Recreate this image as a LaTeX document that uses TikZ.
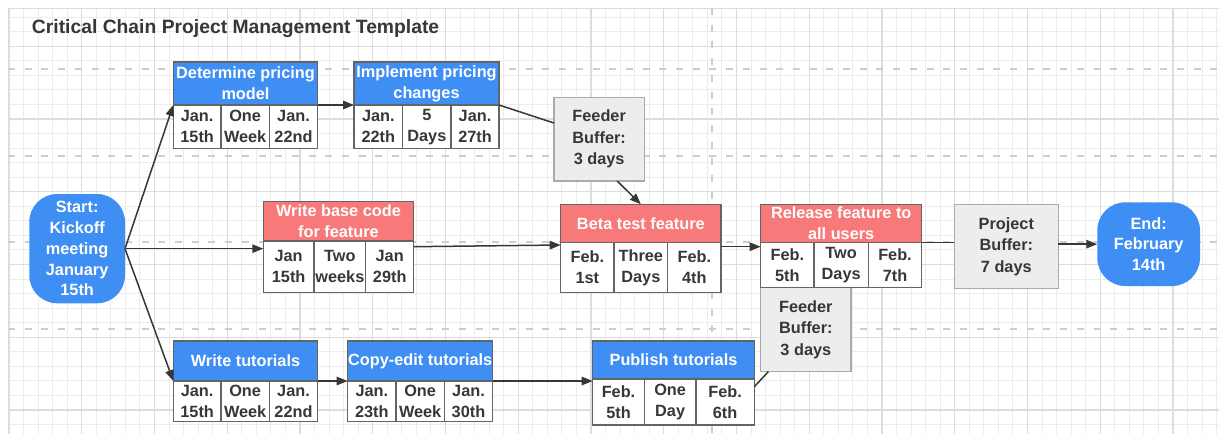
\documentclass[tikz,border=0pt]{standalone}
\usepackage{fontspec}
\setmainfont{Liberation Sans}
\usetikzlibrary{arrows.meta,calc}

\definecolor{taskblue}{RGB}{63,142,243}
\definecolor{taskred}{RGB}{248,121,121}
\definecolor{bufferfill}{RGB}{237,237,237}
\definecolor{bufferline}{RGB}{170,170,170}
\definecolor{cellline}{RGB}{100,100,100}
\definecolor{inkgray}{RGB}{55,55,55}
\definecolor{gridfine}{RGB}{236,236,236}
\definecolor{gridbold}{RGB}{220,220,220}
\definecolor{lanedash}{RGB}{205,205,205}

\begin{document}
\begin{tikzpicture}[x=0.5pt,y=-0.5pt,
  every node/.style={font=\fontsize{8.15}{10.5}\selectfont\bfseries, align=center, inner sep=0pt, outer sep=0pt},
  % a box given by its corners (x1,y1) and (x2,y2)
  span/.style n args={4}{rectangle, anchor=center,
    minimum width={(#3-#1)*0.5pt}, minimum height={(#4-#2)*0.5pt},
    at={({(#1+#3)/2},{(#2+#4)/2})}},
  hdr/.style={draw=cellline, line width=0.6pt, text=white},
  bluehdr/.style={hdr, fill=taskblue},
  redhdr/.style={hdr, fill=taskred},
  cellbox/.style={draw=cellline, line width=0.6pt, fill=white, text=inkgray},
  bufferbox/.style={draw=bufferline, line width=0.75pt, fill=bufferfill, text=inkgray, font=\fontsize{8.15}{10.75}\selectfont\bfseries},
  terminal/.style={fill=taskblue, rounded corners=14pt, text=white, font=\fontsize{8.15}{10.4}\selectfont\bfseries},
  link/.style={draw=inkgray, line width=0.75pt},
  arrowlink/.style={link, -{Triangle[length=5.5pt,width=4.2pt]}},
  lane/.style={draw=lanedash, line width=1pt, dash pattern=on 3.5pt off 4.85pt},
]
\useasboundingbox (0,0) rectangle (1219,434);
\fill[white] (0,0) rectangle (1219,434);

% drawing grid
\begin{scope}
  \clip (8,8) rectangle (1219,434);
  \foreach \i in {0,...,83}
    \draw[gridfine, line width=0.5pt] ({8.95+14.55*\i},8) -- ({8.95+14.55*\i},434);
  \foreach \j in {-2,...,26}
    \draw[gridfine, line width=0.5pt] (8,{46.25+14.55*\j}) -- (1219,{46.25+14.55*\j});
  \foreach \i in {0,5,...,80}
    \draw[gridbold, line width=0.6pt] ({8.95+14.55*\i},8) -- ({8.95+14.55*\i},434);
  \foreach \j in {0,5,...,25}
    \draw[gridbold, line width=0.6pt] (8,{46.25+14.55*\j}) -- (1219,{46.25+14.55*\j});
  \draw[gridbold, line width=0.6pt] (8,8.3) -- (1219,8.3);
\end{scope}

% swimlane separators
\foreach \y in {69,155.7,242.3,329}
  \draw[lane] (8,\y) -- (1219,\y);
\draw[lane] (712.3,8) -- (712.3,434);

% title
\node[anchor=west, text=inkgray, font=\fontsize{9.65}{12}\selectfont\bfseries] (title) at (32,29)
  {Critical Chain Project Management Template};

% start and end
\node[terminal, span={29.3}{194}{125}{303.3}] (start) {Start:\\Kickoff\\meeting\\January\\15th};
\node[terminal, span={1097.3}{202.3}{1200}{286}] (finish) {End:\\February\\14th};

% buffers
\node[bufferbox, span={554}{97.3}{644.3}{181}] (fb1) {Feeder\\Buffer:\\3 days};
\node[bufferbox, span={760.7}{287.3}{851}{371.7}] (fb2) {Feeder\\Buffer:\\3 days};
\node[bufferbox, span={954.3}{204.3}{1058.3}{288.3}] (pb) {Project\\Buffer:\\7 days};

% Determine pricing model
\node[bluehdr, span={173.3}{62}{317.7}{105}] (dph) {Determine pricing\\model};
\node[cellbox, span={173.3}{105}{221}{148.3}] (dp1) {Jan.\\15th};
\node[cellbox, span={221}{105}{269.3}{148.3}] (dp2) {One\\Week};
\node[cellbox, span={269.3}{105}{317.7}{148.3}] (dp3) {Jan.\\22nd};

% Implement pricing changes
\node[bluehdr, span={354}{62}{499}{105}] (imh) {Implement pricing\\changes};
\node[cellbox, span={354}{105}{402.7}{148.3}] (im1) {Jan.\\22th};
\node[cellbox, span={402.7}{105}{451}{148.3}] (im2) {5\\Days};
\node[cellbox, span={451}{105}{499}{148.3}] (im3) {Jan.\\27th};

% Write base code for feature
\node[redhdr, span={263.3}{201.7}{413.7}{241}] (wbh) {Write base code\\for feature};
\node[cellbox, span={263.3}{241}{314}{292.3}] (wb1) {Jan\\15th};
\node[cellbox, span={314}{241}{365.7}{292.3}] (wb2) {Two\\weeks};
\node[cellbox, span={365.7}{241}{413.7}{292.3}] (wb3) {Jan\\29th};

% Beta test feature
\node[redhdr, span={560.7}{204.3}{721}{242.7}] (bth) {Beta test feature};
\node[cellbox, span={560.7}{242.7}{614}{292.3}] (bt1) {Feb.\\1st};
\node[cellbox, span={614}{242.7}{667.7}{292.3}] (bt2) {Three\\Days};
\node[cellbox, span={667.7}{242.7}{721}{292.3}] (bt3) {Feb.\\4th};

% Release feature to all users
\node[redhdr, span={760.7}{204.3}{921.7}{242.3}] (rlh) {Release feature to\\all users};
\node[cellbox, span={760.7}{242.3}{814}{287.3}] (rl1) {Feb.\\5th};
\node[cellbox, span={814}{242.3}{868.3}{287.3}] (rl2) {Two\\Days};
\node[cellbox, span={868.3}{242.3}{921.7}{287.3}] (rl3) {Feb.\\7th};

% Write tutorials
\node[bluehdr, span={173.3}{341}{317.7}{381}] (wth) {Write tutorials};
\node[cellbox, span={173.3}{381}{221}{421.7}] (wt1) {Jan.\\15th};
\node[cellbox, span={221}{381}{269.3}{421.7}] (wt2) {One\\Week};
\node[cellbox, span={269.3}{381}{317.7}{421.7}] (wt3) {Jan.\\22nd};

% Copy-edit tutorials
\node[bluehdr, span={347.7}{341}{492.7}{381}] (ceh) {Copy-edit tutorials};
\node[cellbox, span={347.7}{381}{396}{421.7}] (ce1) {Jan.\\23th};
\node[cellbox, span={396}{381}{444.3}{421.7}] (ce2) {One\\Week};
\node[cellbox, span={444.3}{381}{492.7}{421.7}] (ce3) {Jan.\\30th};

% Publish tutorials
\node[bluehdr, span={592.7}{341}{754.3}{379}] (puh) {Publish tutorials};
\node[cellbox, span={592.7}{379}{644.3}{425}] (pu1) {Feb.\\5th};
\node[cellbox, span={644.3}{379}{696}{425}] (pu2) {One\\Day};
\node[cellbox, span={696}{379}{754.3}{425}] (pu3) {Feb.\\6th};

% connectors
\draw[arrowlink] (start.east) -- (dph.south west);
\draw[arrowlink] (start.east) -- (start.east -| wbh.west);
\draw[arrowlink] (start.east) -- (wth.south west);
\draw[arrowlink] (dph.south east) -- (imh.south west);
\draw[link] (imh.south east) -- ([yshift=-12.85pt]fb1.north west);
\draw[arrowlink] ([xshift=9pt]fb1.south) -- (bth.north);
\draw[arrowlink] ([yshift=-2.85pt]wbh.south east) -- ([yshift=-1.15pt]bth.south west);
\draw[arrowlink] ([yshift=-2pt]bth.south east) -- ([yshift=-2.2pt]rlh.south west);
\draw[link] (rlh.south east) -- (rlh.south east -| pb.west);
\draw[arrowlink] (pb.east |- finish.west) -- (finish.west);
\draw[arrowlink] (wth.south east) -- (ceh.south west);
\draw[arrowlink] (ceh.south east) -- (ceh.south east -| puh.west);
\draw[link] ([yshift=-3.85pt]puh.south east) -- ([xshift=3.8pt]fb2.south west);
\end{tikzpicture}
\end{document}
